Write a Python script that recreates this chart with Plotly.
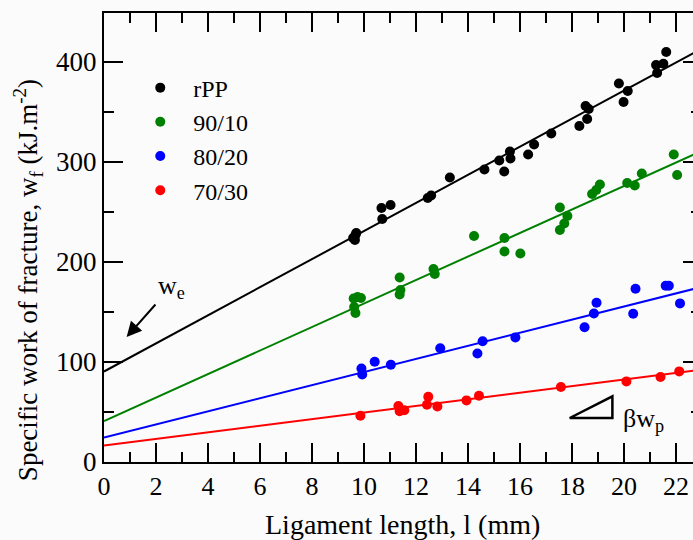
import plotly.graph_objects as go

# ---------------- data ----------------
series_names = ["rPP", "90/10", "80/20", "70/30"]
series_colors = ["#000000", "#008000", "#0000ff", "#ff0000"]

rpp_x = [9.58, 9.65, 9.67, 9.70, 10.70, 10.67, 11.02, 12.45, 12.58, 13.30, 14.63, 15.20, 15.39,
         15.61, 15.63, 16.31, 16.54, 17.20, 18.28, 18.52, 18.64, 18.58, 19.80, 19.98, 20.14,
         21.23, 21.27, 21.51, 21.62]
rpp_y = [224, 222, 227, 229, 243, 254, 257, 264, 266.5, 284.5, 292.5, 301.5, 290.5,
         310.5, 303.5, 307.5, 317.5, 328.5, 336, 356, 353, 343, 378.5, 360, 371,
         397, 389, 398.3, 410]

b9010_x = [9.60, 9.62, 9.67, 9.75, 9.88, 11.37, 11.40, 11.37, 12.67, 12.72, 14.23, 15.40, 15.40,
           16.01, 17.53, 17.53, 17.70, 17.82, 18.77, 18.93, 19.07, 20.12, 20.41, 20.68, 21.91, 22.04]
b9010_y = [163.5, 155, 149, 165, 164, 184.5, 172, 167.5, 193, 188, 226, 224, 210.5,
           208.5, 254.5, 232, 238.5, 246, 268, 272, 277.5, 279, 276.5, 288.5, 307.5, 287]

b8020_x = [9.90, 9.93, 10.41, 11.03, 12.93, 14.36, 14.56, 15.82, 18.48, 18.84, 18.94, 20.35,
           20.44, 21.60, 21.72, 22.15]
b8020_y = [93.5, 87.5, 100.3, 97.3, 113.8, 108.5, 120.8, 124.6, 134.7, 148.5, 159.3, 148.2,
           173.3, 176.3, 176.3, 158.6]

b7030_x = [9.86, 11.32, 11.37, 11.55, 12.42, 12.47, 12.82, 13.94, 14.42, 17.57, 20.09, 21.40, 22.12]
b7030_y = [46.3, 56, 50.8, 51.8, 57.3, 65.3, 55.6, 61.6, 66.3, 75, 80.6, 85, 90.6]

# linear fits w_f = w_e + beta*w_p * l  (intercept, slope)
fit_intercepts = [90.5, 41.0, 24.5, 16.5]
fit_slopes = [14.05, 11.75, 6.55, 3.30]
fit_x_range = [0, 23]

series_x = [rpp_x, b9010_x, b8020_x, b7030_x]
series_y = [rpp_y, b9010_y, b8020_y, b7030_y]

x_ticks = [0, 2, 4, 6, 8, 10, 12, 14, 16, 18, 20, 22]
y_ticks = [0, 100, 200, 300, 400]

# ---------------- figure ----------------
FONT = "Liberation Serif, Times New Roman, serif"
fig = go.Figure()

for name, col, xs, ys, b0, b1 in zip(series_names, series_colors, series_x, series_y,
                                     fit_intercepts, fit_slopes):
    fig.add_trace(go.Scatter(
        x=fit_x_range, y=[b0 + b1 * v for v in fit_x_range], mode="lines",
        line=dict(color=col, width=2), showlegend=False, hoverinfo="skip"))
    fig.add_trace(go.Scatter(
        x=xs, y=ys, mode="markers", name=name,
        marker=dict(color=col, size=10, line=dict(width=0))))

# invisible trace to carry the right-hand tick axis
fig.add_trace(go.Scatter(x=rpp_x, y=rpp_y, yaxis="y2", mode="markers",
                         marker=dict(opacity=0), showlegend=False, hoverinfo="skip"))

axis_common = dict(showgrid=False, zeroline=False, linecolor="black", linewidth=2,
                   ticks="inside", tickcolor="black", tickwidth=2)

fig.update_layout(
    width=693, height=540,
    margin=dict(l=104, r=0, t=13, b=78),
    paper_bgcolor="#fbfbfb", plot_bgcolor="#fbfbfb",
    font=dict(family=FONT, size=26, color="black"),
    xaxis=dict(range=[0, 22.65], tickvals=x_ticks, ticklen=19, mirror="ticks", showline=True,
               tickfont=dict(family=FONT, size=26, color="black"),
               minor=dict(dtick=1, tick0=0, ticklen=10, ticks="inside", tickcolor="black",
                          tickwidth=2),
               **axis_common),
    yaxis=dict(range=[0, 449], tickvals=y_ticks, ticklen=19, showline=True, mirror=False,
               tickfont=dict(family=FONT, size=27, color="black"),
               minor=dict(dtick=50, tick0=0, ticklen=10, ticks="inside", tickcolor="black",
                          tickwidth=2),
               **axis_common),
    yaxis2=dict(overlaying="y", side="right", range=[0, 449], tickvals=y_ticks,
                showline=False, showgrid=False, zeroline=False, ticks="inside", ticklen=10,
                tickwidth=2, tickcolor="black", showticklabels=False,
                minor=dict(dtick=50, tick0=0, ticklen=2, ticks="inside", tickcolor="black",
                           tickwidth=2)),
    legend=dict(x=0.0395, y=0.883, xanchor="left", yanchor="top",
                bgcolor="rgba(0,0,0,0)", font=dict(family=FONT, size=24, color="black"),
                tracegroupgap=0, itemwidth=56),
    showlegend=True,
)

# axis titles
fig.add_annotation(text="Ligament length, l (mm)", xref="paper", yref="paper",
                   x=0.507, y=-0.14, xanchor="center", yanchor="middle", showarrow=False,
                   font=dict(family=FONT, size=28, color="black"))
fig.add_annotation(text="Specific work of fracture, w<sub>f</sub> (kJ.m<sup>-2</sup>)",
                   xref="paper", yref="paper", x=-0.13, y=0.406, textangle=-90,
                   xanchor="center", yanchor="middle", showarrow=False,
                   font=dict(family=FONT, size=27, color="black"))

# w_e label with arrow
fig.add_annotation(text="", x=0.87, y=125, ax=2.03, ay=159, xref="x", yref="y",
                   axref="x", ayref="y", showarrow=True, arrowhead=2, arrowsize=1.5,
                   arrowwidth=2, arrowcolor="black")
fig.add_annotation(text="w<sub>e</sub>", x=2.0, y=175, xref="x", yref="y",
                   xanchor="left", yanchor="middle", showarrow=False,
                   font=dict(family=FONT, size=26, color="black"))

# slope triangle beta*w_p
fig.add_shape(type="path", path="M 17.91,44 L 19.55,44 L 19.55,65.6 Z", xref="x", yref="y",
              line=dict(color="black", width=2.5))
fig.add_annotation(text="βw<sub>p</sub>", x=19.9, y=42, xref="x", yref="y",
                   xanchor="left", yanchor="middle", showarrow=False,
                   font=dict(family=FONT, size=26, color="black"))

fig.write_html("out.html", config={"displayModeBar": False},
               post_script="document.body.style.margin='0';document.body.style.overflow='hidden';")
